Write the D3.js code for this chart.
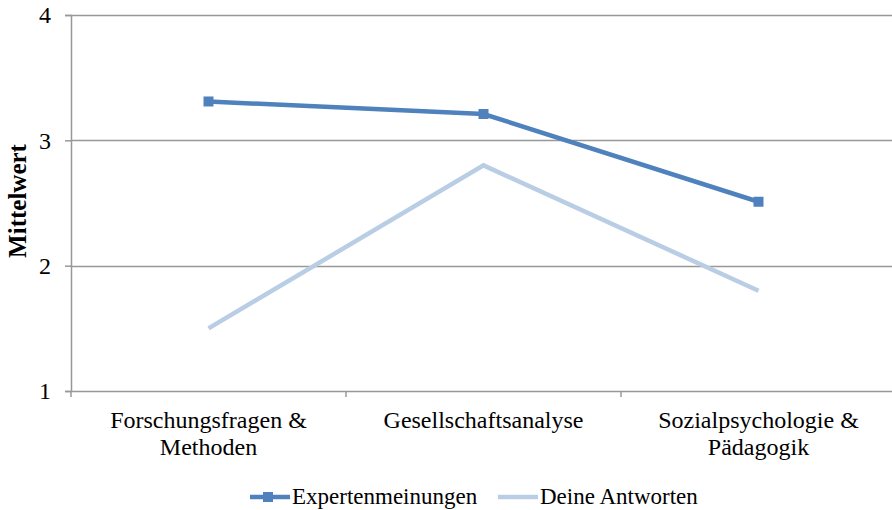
<!DOCTYPE html>
<html>
<head>
<meta charset="utf-8">
<script src="https://cdn.jsdelivr.net/npm/d3@7"></script>
<style>
  body { margin: 0; background: #fff; }
  text { font-family: "Liberation Serif", "Times New Roman", serif; fill: #000; }
</style>
</head>
<body>
<div id="chart"></div>
<script>
// data
var categories = [["Forschungsfragen &", "Methoden"], ["Gesellschaftsanalyse"], ["Sozialpsychologie &", "Pädagogik"]];
var expertValues = [3.31, 3.21, 2.51];
var deineValues = [1.5, 2.8, 1.8];
var yTicks = [1, 2, 3, 4];
var seriesNames = ["Expertenmeinungen", "Deine Antworten"];

var svgWidth = 892, svgHeight = 510;
var margin = { top: 15, left: 71, bottom: 119, right: -4 };
var width = svgWidth - margin.left - margin.right;
var height = svgHeight - margin.top - margin.bottom;

var svg = d3.select("#chart").append("svg")
  .attr("width", svgWidth)
  .attr("height", svgHeight);

var chartGroup = svg.append("g")
  .attr("transform", `translate(${margin.left}, ${margin.top})`);

var xScale = d3.scaleBand()
  .domain(d3.range(categories.length))
  .range([0, width]);

var yScale = d3.scaleLinear()
  .domain([1, 4])
  .range([height, 0]);

// gridlines
chartGroup.selectAll(".grid")
  .data(yTicks.slice(1))
  .enter()
  .append("line")
  .attr("x1", 0)
  .attr("x2", width)
  .attr("y1", d => Math.round(yScale(d)) + 0.5)
  .attr("y2", d => Math.round(yScale(d)) + 0.5)
  .attr("stroke", "#989898")
  .attr("stroke-width", 1.5);

// y axis
var leftAxis = d3.axisLeft(yScale).tickValues(yTicks).tickSize(6).tickPadding(14).tickFormat(d3.format("d"));
var yAxis = chartGroup.append("g").call(leftAxis);
yAxis.select(".domain").attr("stroke", "#989898").attr("stroke-width", 1.5);
yAxis.selectAll(".tick line").attr("stroke", "#989898").attr("stroke-width", 1.5);
yAxis.selectAll("text").attr("font-size", "24px").attr("font-family", "Liberation Serif");

// x axis
var bottomAxis = d3.axisBottom(xScale).tickSize(0).tickFormat("");
var xAxis = chartGroup.append("g")
  .attr("transform", `translate(0, ${height})`)
  .call(bottomAxis);
xAxis.select(".domain").attr("stroke", "#989898").attr("stroke-width", 1.5);

// category boundary ticks
chartGroup.selectAll(".xtick")
  .data(d3.range(categories.length + 1))
  .enter()
  .append("line")
  .attr("x1", d => d * xScale.bandwidth())
  .attr("x2", d => d * xScale.bandwidth())
  .attr("y1", height)
  .attr("y2", height + 6)
  .attr("stroke", "#989898")
  .attr("stroke-width", 1.5);

// category labels
var catLabels = chartGroup.selectAll(".cat")
  .data(categories)
  .enter()
  .append("text")
  .attr("text-anchor", "middle")
  .attr("font-size", "24px")
  .attr("transform", (d, i) => `translate(${xScale(i) + xScale.bandwidth() / 2}, ${height + 37})`);
catLabels.selectAll("tspan")
  .data(d => d)
  .enter()
  .append("tspan")
  .attr("x", 0)
  .attr("dy", (d, i) => i === 0 ? 0 : 27)
  .text(d => d);

// y title
svg.append("text")
  .attr("transform", `translate(26, ${margin.top + height / 2 - 2}) rotate(-90)`)
  .attr("text-anchor", "middle")
  .attr("font-size", "25px")
  .attr("font-weight", "bold")
  .text("Mittelwert");

var line = d3.line()
  .x((d, i) => xScale(i) + xScale.bandwidth() / 2)
  .y(d => yScale(d));

// Deine Antworten
chartGroup.append("path")
  .datum(deineValues)
  .attr("d", line)
  .attr("fill", "none")
  .attr("stroke", "#B9CDE5")
  .attr("stroke-width", 4.5);

// Expertenmeinungen
chartGroup.append("path")
  .datum(expertValues)
  .attr("d", line)
  .attr("fill", "none")
  .attr("stroke", "#4F81BD")
  .attr("stroke-width", 4.5);

chartGroup.selectAll(".marker")
  .data(expertValues)
  .enter()
  .append("rect")
  .attr("x", (d, i) => xScale(i) + xScale.bandwidth() / 2 - 5)
  .attr("y", d => yScale(d) - 5)
  .attr("width", 10)
  .attr("height", 10)
  .attr("fill", "#4F81BD");

// legend
var legendY = 497;
var legend = svg.append("g");
legend.append("line")
  .attr("x1", 250).attr("x2", 290)
  .attr("y1", legendY).attr("y2", legendY)
  .attr("stroke", "#4F81BD").attr("stroke-width", 4.5);
legend.append("rect")
  .attr("x", 263).attr("y", legendY - 5)
  .attr("width", 10).attr("height", 10)
  .attr("fill", "#4F81BD");
legend.append("text")
  .attr("x", 292).attr("y", legendY + 7)
  .attr("font-size", "23px")
  .text(seriesNames[0]);
legend.append("line")
  .attr("x1", 498).attr("x2", 538)
  .attr("y1", legendY).attr("y2", legendY)
  .attr("stroke", "#B9CDE5").attr("stroke-width", 4.5);
legend.append("text")
  .attr("x", 540).attr("y", legendY + 7)
  .attr("font-size", "23px")
  .text(seriesNames[1]);
</script>
</body>
</html>
